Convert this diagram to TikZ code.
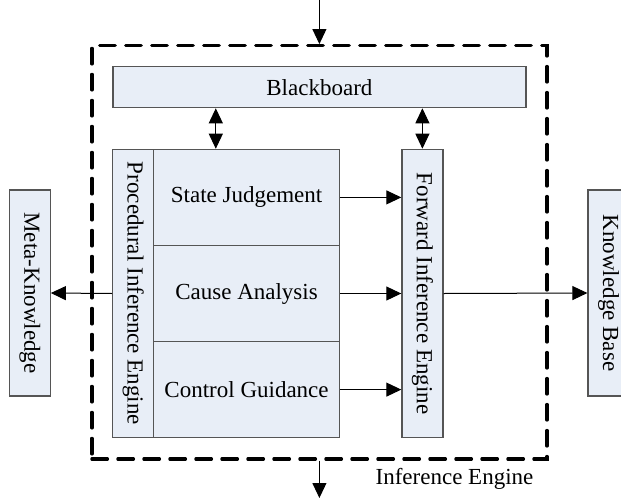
\documentclass[tikz,border=0pt]{standalone}
\usepackage{fontspec}
\setmainfont{Liberation Serif}
\usepackage{tikz}
\usetikzlibrary{arrows.meta}
\definecolor{boxfill}{RGB}{232,238,247}
\definecolor{boxline}{RGB}{85,85,85}

\begin{document}
\begin{tikzpicture}[x=1pt, y=-1pt,
        every node/.style={font=\fontsize{23}{27}\selectfont},
        box/.style={draw=boxline, line width=1.2pt, fill=boxfill, inner sep=0pt},
        vbox/.style={box, minimum height=41pt, rotate=-90},
        row/.style={box, minimum width=185.7pt, minimum height=96.13pt},
        flow/.style={line width=1pt, -{Triangle[length=15pt,width=14pt]}},
        dbl/.style={line width=1pt, {Triangle[length=15pt,width=14pt]}-{Triangle[length=15pt,width=14pt]}}]
        \useasboundingbox (0,0) rectangle (621,498);
        \coordinate (in) at (319.4, 0);
        \coordinate (out) at (319.4, 498);
        \coordinate (p1) at (215.8, 0);
        % engine frame
        \node[draw, line width=3.3pt, line cap=round, dash pattern=on 15.5pt off 10.5pt, minimum width=455pt, minimum height=413.3pt] (ie) at (319.4, 252.35) {};
        \node (ielabel) at (454.5, 479.3) {Inference Engine};
        % blocks
        \node[box, minimum width=413pt, minimum height=41pt] (bb) at (319.4, 87.2) {Blackboard};
        \node[vbox, minimum width=288.4pt] (pie) at (133.3, 293.5) {Procedural Inference Engine};
        \node[row] (sj) at (246.55, 197.4) {State Judgement};
        \node[row] (ca) at (246.55, 293.5) {Cause Analysis};
        \node[row] (cg) at (246.55, 389.6) {Control Guidance};
        \node[vbox, minimum width=288.4pt] (fie) at (422.4, 293.5) {Forward Inference Engine};
        \node[vbox, minimum width=206pt] (mk) at (29.75, 293) {Meta-Knowledge};
        \node[vbox, minimum width=206pt] (kb) at (608.5, 293) {Knowledge Base};
        % connectors
        \draw[flow] (in) -- (ie.north);
        \draw[flow] (ie.south) -- (out);
        \draw[dbl] (bb.south -| p1) -- (sj.north -| p1);
        \draw[dbl] (bb.south -| fie.west) -- (fie.west);
        \draw[flow] (sj.east) -- (sj.east -| fie.south);
        \draw[flow] (ca.east) -- (ca.east -| fie.south);
        \draw[flow] (cg.east) -- (cg.east -| fie.south);
        \draw[flow] (pie.south) -- (mk.north);
        \draw[flow] (fie.north) -- (kb.south);
\end{tikzpicture}
\end{document}
